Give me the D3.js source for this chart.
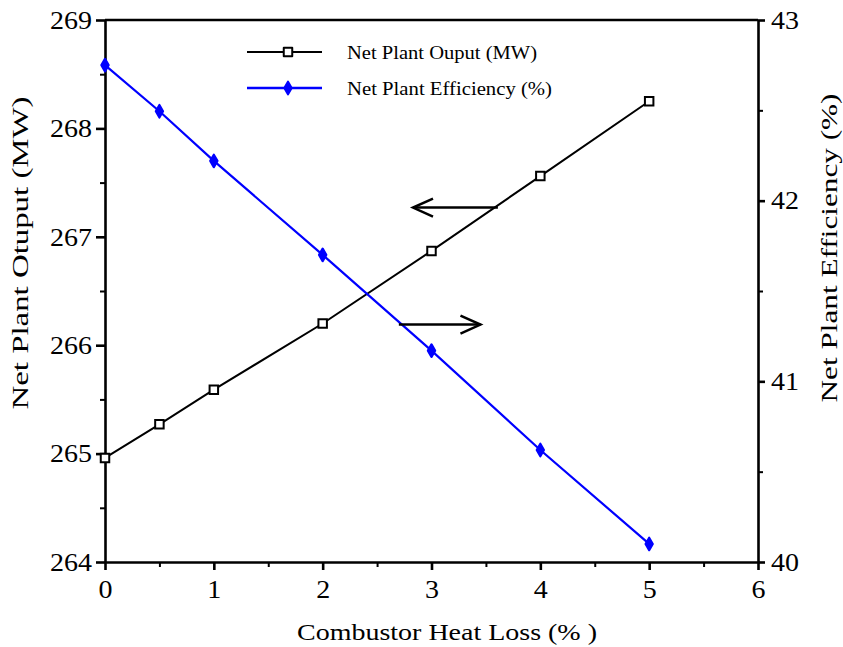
<!DOCTYPE html>
<html>
<head>
<meta charset="utf-8">
<script src="https://cdn.jsdelivr.net/npm/d3@7"></script>
<style>
  body { margin: 0; background: #fff; }
  text { font-family: "Liberation Serif", "Times New Roman", serif; }
</style>
</head>
<body>
<div id="container"></div>
<script>
/* CONSTANTS AND GLOBALS */
const width = 843,
  height = 647,
  margin = { top: 20, right: 85, bottom: 85, left: 105 };
const serif = '"Liberation Serif", "Times New Roman", serif';

/* DATA */
const heatLoss = [0, 0.5, 1, 2, 3, 4, 5];
const netOutput = [264.96, 265.27, 265.59, 266.20, 266.87, 267.56, 268.25];
const netEfficiency = [42.75, 42.495, 42.22, 41.70, 41.17, 40.62, 40.10];
const xTicks = [0, 1, 2, 3, 4, 5, 6];
const leftTicks = [264, 265, 266, 267, 268, 269];
const rightTicks = [40, 41, 42, 43];
const seriesNames = ["Net Plant Ouput (MW)", "Net Plant Efficiency (%)"];
// arrows: [x start, x end, y on left axis]
const arrows = [[3.61, 2.83, 267.27], [2.70, 3.45, 266.19]];

// SCALES
const xScale = d3.scaleLinear()
  .domain([0, 6])
  .range([margin.left, width - margin.right]);

const yLeft = d3.scaleLinear()
  .domain([264, 269])
  .range([height - margin.bottom, margin.top]);

const yRight = d3.scaleLinear()
  .domain([40, 43])
  .range([height - margin.bottom, margin.top]);

// CREATE SVG ELEMENT
const svg = d3.select("#container")
  .append("svg")
  .attr("width", width)
  .attr("height", height);

const axisW = 2.6;
const bottomY = yLeft(264);

// minor ticks
svg.append("g")
  .attr("transform", `translate(0,${bottomY})`)
  .call(d3.axisBottom(xScale).tickValues(d3.range(0.5, 6, 1)).tickSize(5).tickFormat(""))
  .call(g => g.select(".domain").remove())
  .selectAll("line").attr("stroke-width", 2);
svg.append("g")
  .attr("transform", `translate(${xScale(0)},0)`)
  .call(d3.axisLeft(yLeft).tickValues(d3.range(264.5, 269, 1)).tickSize(5).tickFormat(""))
  .call(g => g.select(".domain").remove())
  .selectAll("line").attr("stroke-width", 2);
svg.append("g")
  .attr("transform", `translate(${xScale(6)},0)`)
  .call(d3.axisRight(yRight).tickValues(d3.range(40.5, 43, 1)).tickSize(5).tickFormat(""))
  .call(g => g.select(".domain").remove())
  .selectAll("line").attr("stroke-width", 2);

// BUILD AND CALL AXES
const fmt = d3.format("d");
const xAxis = svg.append("g")
  .attr("class", "x-axis")
  .attr("transform", `translate(0,${bottomY})`)
  .call(d3.axisBottom(xScale).tickValues(xTicks).tickFormat(fmt).tickSize(8).tickSizeOuter(0).tickPadding(21));

const leftAxis = svg.append("g")
  .attr("class", "y-axis")
  .attr("transform", `translate(${xScale(0)},0)`)
  .call(d3.axisLeft(yLeft).tickValues(leftTicks).tickFormat(fmt).tickSize(9).tickSizeOuter(0).tickPadding(4));

const rightAxis = svg.append("g")
  .attr("class", "y-axis-right")
  .attr("transform", `translate(${xScale(6)},0)`)
  .call(d3.axisRight(yRight).tickValues(rightTicks).tickFormat(fmt).tickSize(7).tickSizeOuter(0).tickPadding(6));

[xAxis, leftAxis, rightAxis].forEach(g => {
  g.attr("font-family", serif);
  g.select(".domain").attr("stroke-width", axisW);
  g.selectAll(".tick line").attr("stroke-width", axisW);
  g.selectAll(".tick text")
    .style("font-family", serif)
    .style("font-size", "26px")
    .attr("textLength", d => String(d).length * 14)
    .attr("lengthAdjust", "spacingAndGlyphs")
    .attr("fill", "#000");
});
xAxis.selectAll(".tick text").attr("dy", "0.25em");

// top border
svg.append("line")
  .attr("x1", xScale(0)).attr("x2", xScale(6))
  .attr("y1", yLeft(269)).attr("y2", yLeft(269))
  .attr("stroke", "#000").attr("stroke-width", axisW);

// AXIS TITLES
svg.append("text")
  .attr("x", 447)
  .attr("y", 640)
  .attr("text-anchor", "middle")
  .attr("textLength", 300)
  .attr("lengthAdjust", "spacingAndGlyphs")
  .style("font-size", "23px")
  .text("Combustor Heat Loss (% )");

svg.append("text")
  .attr("transform", `translate(28,253) rotate(-90)`)
  .attr("text-anchor", "middle")
  .attr("textLength", 313)
  .attr("lengthAdjust", "spacingAndGlyphs")
  .style("font-size", "23px")
  .text("Net Plant Otuput (MW)");

svg.append("text")
  .attr("transform", `translate(837,248) rotate(-90)`)
  .attr("text-anchor", "middle")
  .attr("textLength", 309)
  .attr("lengthAdjust", "spacingAndGlyphs")
  .style("font-size", "23px")
  .text("Net Plant Efficiency (%)");

// LINE GENERATORS
const outputLine = d3.line()
  .x((d, i) => xScale(heatLoss[i]))
  .y(d => yLeft(d));
const effLine = d3.line()
  .x((d, i) => xScale(heatLoss[i]))
  .y(d => yRight(d));

svg.append("path")
  .attr("d", outputLine(netOutput))
  .attr("fill", "none")
  .attr("stroke", "#000")
  .attr("stroke-width", 2);

svg.append("path")
  .attr("d", effLine(netEfficiency))
  .attr("fill", "none")
  .attr("stroke", "#0000ff")
  .attr("stroke-width", 2.2);

const square = d3.symbol().type(d3.symbolSquare).size(72);
const diamond = d3.symbol().type(d3.symbolDiamond).size(45);

svg.selectAll(".sq")
  .data(netOutput)
  .join("path")
  .attr("class", "sq")
  .attr("transform", (d, i) => `translate(${xScale(heatLoss[i])},${yLeft(d)})`)
  .attr("d", square)
  .attr("fill", "#fff")
  .attr("stroke", "#000")
  .attr("stroke-width", 2);

svg.selectAll(".dm")
  .data(netEfficiency)
  .join("path")
  .attr("class", "dm")
  .attr("transform", (d, i) => `translate(${xScale(heatLoss[i])},${yRight(d)})`)
  .attr("d", diamond)
  .attr("fill", "#0000ff")
  .attr("stroke", "#0000ff")
  .attr("stroke-linejoin", "round")
  .attr("stroke-width", 2.2);

// ARROWS
arrows.forEach(([x0, x1, yv]) => {
  const ax0 = xScale(x0), ax1 = xScale(x1), ay = yLeft(yv);
  const dir = Math.sign(ax1 - ax0);
  svg.append("line")
    .attr("x1", ax0).attr("x2", ax1)
    .attr("y1", ay).attr("y2", ay)
    .attr("stroke", "#000").attr("stroke-width", 2.5);
  svg.append("path")
    .attr("d", `M${ax1 - dir * 20},${ay - 9}L${ax1},${ay}L${ax1 - dir * 20},${ay + 9}`)
    .attr("fill", "none")
    .attr("stroke", "#000").attr("stroke-width", 2.5);
});

// LEGEND
const legendWidths = [190, 205];
const legend = svg.append("g").attr("transform", "translate(247,52)");
const legendRows = legend.selectAll("g")
  .data(seriesNames)
  .join("g")
  .attr("transform", (d, i) => `translate(0,${i * 36})`);

legendRows.append("line")
  .attr("x1", 0).attr("x2", 75)
  .attr("stroke", (d, i) => i === 0 ? "#000" : "#0000ff")
  .attr("stroke-width", (d, i) => i === 0 ? 2 : 2.5);

legendRows.append("path")
  .attr("transform", "translate(41,0)")
  .attr("d", (d, i) => i === 0 ? square() : diamond())
  .attr("fill", (d, i) => i === 0 ? "#fff" : "#0000ff")
  .attr("stroke", (d, i) => i === 0 ? "#000" : "#0000ff")
  .attr("stroke-linejoin", "round")
  .attr("stroke-width", (d, i) => i === 0 ? 2 : 2.2);

legendRows.append("text")
  .attr("x", 100)
  .attr("dy", "0.35em")
  .attr("textLength", (d, i) => legendWidths[i])
  .attr("lengthAdjust", "spacingAndGlyphs")
  .style("font-size", "19px")
  .text(d => d);
</script>
</body>
</html>
